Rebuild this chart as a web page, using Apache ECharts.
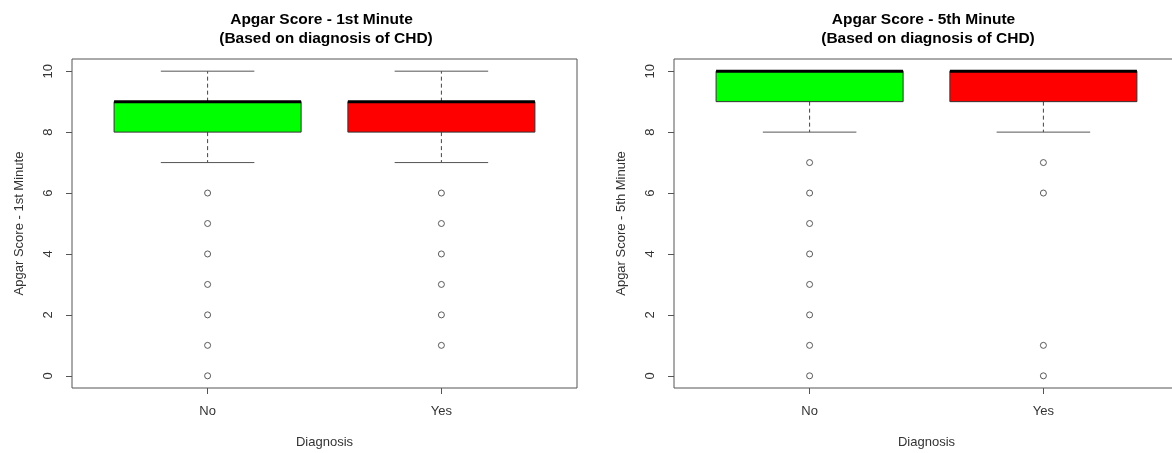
<!DOCTYPE html>
<html>
<head>
<meta charset="utf-8">
<script src="https://cdn.jsdelivr.net/npm/echarts@6/dist/echarts.min.js"></script>
<style>html,body{margin:0;padding:0;background:#fff}#c{width:1172px;height:453px}</style>
</head>
<body>
<div id="c"></div>
<script>
// ---- data ----
const categories = ['No', 'Yes'];
// [lower whisker, Q1, median, Q3, upper whisker]
const min1Stats = [[7, 8, 9, 9, 10], [7, 8, 9, 9, 10]];
const min1Outliers = [[0, 1, 2, 3, 4, 5, 6], [1, 2, 3, 4, 5, 6]];
const min5Stats = [[8, 9, 10, 10, 10], [8, 9, 10, 10, 10]];
const min5Outliers = [[0, 1, 2, 3, 4, 5, 6, 7], [0, 1, 6, 7]];
const yTicks = [0, 2, 4, 6, 8, 10];
const panelTitles = ['Apgar Score - 1st Minute', 'Apgar Score - 5th Minute'];
const subTitle = '(Based on diagnosis of CHD)';
const yNames = ['Apgar Score - 1st Minute', 'Apgar Score - 5th Minute'];
const xName = 'Diagnosis';
const boxColors = ['#00FF00', '#FF0000'];

// ---- chart ----
const FONT = '"Liberation Sans", Arial, sans-serif';
const chart = echarts.init(document.getElementById('c'), null, {renderer: 'canvas'});

const grids = [
  {left: 72, top: 59, width: 505, height: 329},
  {left: 674, top: 59, width: 505, height: 329}
];

function boxData(stats) {
  return stats.map((s, i) => [i + 1].concat(s));
}
function outlierData(outs) {
  const d = [];
  outs.forEach((arr, i) => arr.forEach(v => d.push([i + 1, v])));
  return d;
}

function renderBox(params, api) {
  const x = api.value(0);
  const lo = api.value(1), q1 = api.value(2), med = api.value(3), q3 = api.value(4), hi = api.value(5);
  const w = api.size([0.8, 0])[0];
  const capW = w * 0.5;
  const pLo = api.coord([x, lo]), pQ1 = api.coord([x, q1]), pMed = api.coord([x, med]);
  const pQ3 = api.coord([x, q3]), pHi = api.coord([x, hi]);
  const cx = pQ1[0];
  const dash = {stroke: '#444', lineWidth: 1, lineDash: [4, 3]};
  const solid = {stroke: '#555', lineWidth: 1};
  const children = [];
  if (pHi[1] < pQ3[1]) {
    children.push({type: 'line', shape: {x1: cx, y1: pQ3[1], x2: cx, y2: pHi[1]}, style: dash});
  }
  if (pLo[1] > pQ1[1]) {
    children.push({type: 'line', shape: {x1: cx, y1: pQ1[1], x2: cx, y2: pLo[1]}, style: dash});
  }
  children.push({type: 'line', shape: {x1: cx - capW / 2, y1: pHi[1], x2: cx + capW / 2, y2: pHi[1]}, style: solid});
  children.push({type: 'line', shape: {x1: cx - capW / 2, y1: pLo[1], x2: cx + capW / 2, y2: pLo[1]}, style: solid});
  children.push({type: 'rect', shape: {x: cx - w / 2, y: pQ3[1], width: w, height: pQ1[1] - pQ3[1]},
    style: {fill: boxColors[params.dataIndex], stroke: '#333', lineWidth: 1}});
  children.push({type: 'line', shape: {x1: cx - w / 2, y1: pMed[1], x2: cx + w / 2, y2: pMed[1]},
    style: {stroke: '#000', lineWidth: 3}});
  return {type: 'group', children: children};
}

const xAxes = grids.map((g, i) => ({
  type: 'value', gridIndex: i, min: 0.42, max: 2.58, position: 'bottom',
  name: xName, nameLocation: 'middle', nameGap: 48,
  nameTextStyle: {fontFamily: FONT, fontSize: 13, color: '#333'},
  axisLine: {show: false, onZero: false},
  splitLine: {show: false},
  axisTick: {show: true, inside: false, customValues: [1, 2], length: 6, lineStyle: {color: '#555'}},
  axisLabel: {show: true, customValues: [1, 2], margin: 17, fontFamily: FONT, fontSize: 13, color: '#333',
    formatter: v => categories[Math.round(v) - 1] || ''}
}));

const yAxes = grids.map((g, i) => ({
  type: 'value', gridIndex: i, min: -0.4, max: 10.4, position: 'left',
  name: yNames[i], nameLocation: 'middle', nameGap: 46,
  nameTextStyle: {fontFamily: FONT, fontSize: 13, color: '#333'},
  axisLine: {show: false, onZero: false},
  splitLine: {show: false},
  axisTick: {show: true, inside: false, customValues: yTicks, length: 6, lineStyle: {color: '#555'}},
  axisLabel: {show: true, customValues: yTicks, rotate: 90, margin: 17, fontFamily: FONT, fontSize: 13, color: '#333'}
}));

const series = [];
[[min1Stats, min1Outliers], [min5Stats, min5Outliers]].forEach((p, i) => {
  series.push({
    type: 'custom', xAxisIndex: i, yAxisIndex: i,
    renderItem: renderBox,
    encode: {x: 0, y: [1, 2, 3, 4, 5]},
    data: boxData(p[0]),
    z: 2
  });
  series.push({
    type: 'scatter', xAxisIndex: i, yAxisIndex: i,
    symbol: 'circle', symbolSize: 6,
    itemStyle: {color: 'rgba(255,255,255,0)', borderColor: '#333', borderWidth: 1},
    data: outlierData(p[1]),
    z: 3
  });
});

const graphics = [];
grids.forEach((g, i) => {
  const cx = g.left + g.width / 2;
  graphics.push({type: 'text', x: cx - 3, y: 12,
    style: {text: panelTitles[i], textAlign: 'center', textVerticalAlign: 'top', font: 'bold 15.5px ' + FONT, fill: '#000'}});
  graphics.push({type: 'text', x: cx + 1.5, y: 31,
    style: {text: subTitle, textAlign: 'center', textVerticalAlign: 'top', font: 'bold 15.5px ' + FONT, fill: '#000'}});
});

chart.setOption({
  animation: false,
  backgroundColor: '#fff',
  grid: grids.map(g => Object.assign({show: true, borderColor: '#555', borderWidth: 1, backgroundColor: '#fff',
    containLabel: false, outerBoundsMode: 'none'}, g)),
  xAxis: xAxes,
  yAxis: yAxes,
  series: series,
  graphic: graphics
});
</script>
</body>
</html>
